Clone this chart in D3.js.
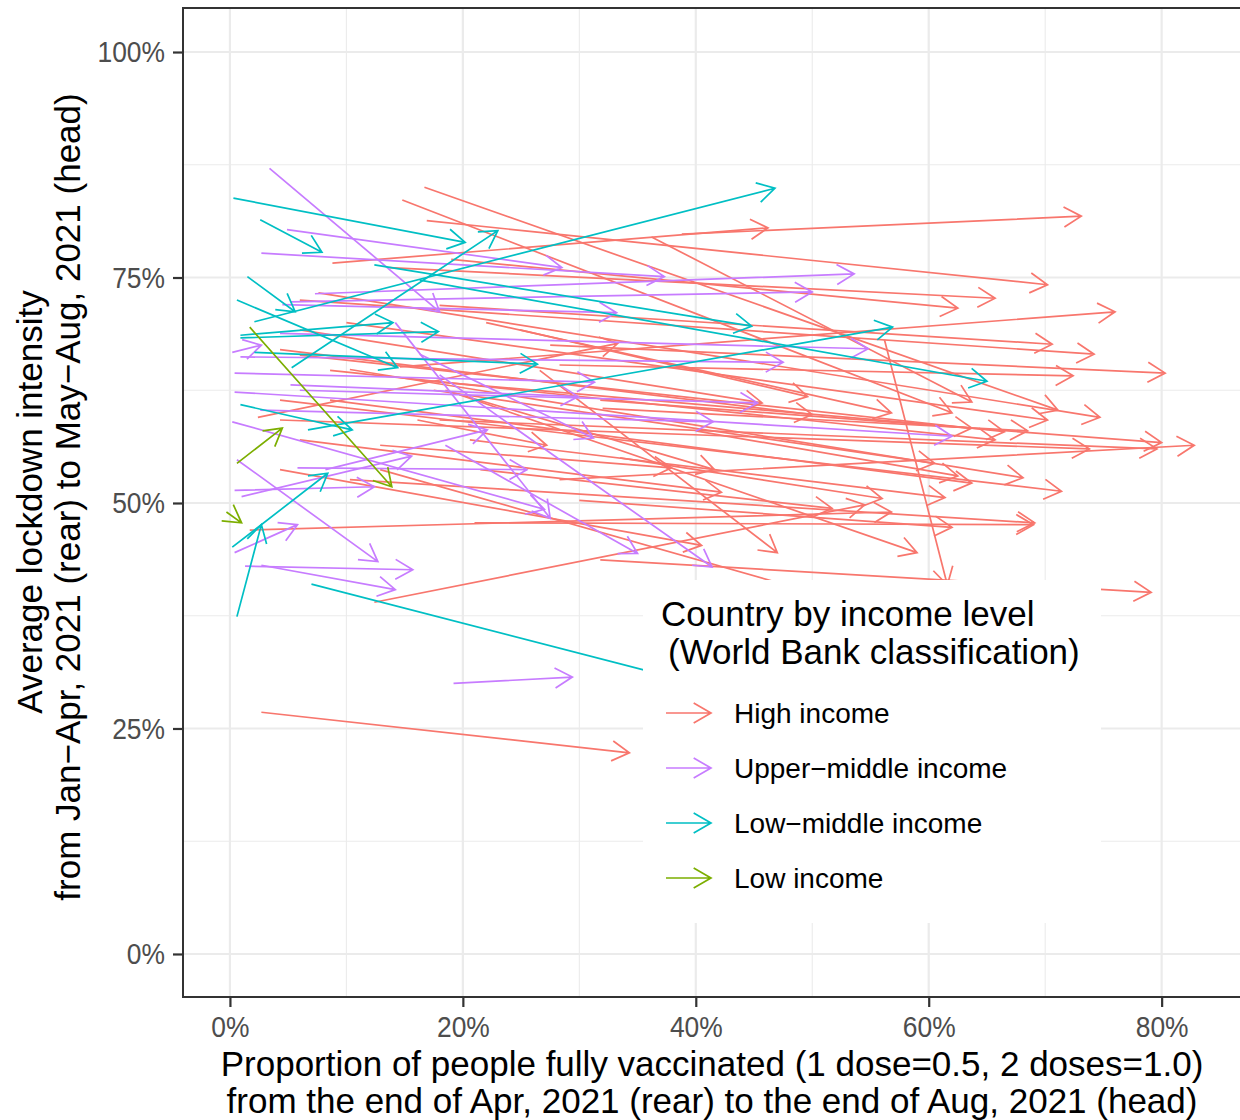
<!DOCTYPE html>
<html><head><meta charset="utf-8">
<script src="https://cdn.jsdelivr.net/npm/d3@7/dist/d3.min.js"></script>
<style>
body{margin:0;background:#fff}
svg{display:block}
.ax{font-family:"Liberation Sans",Arial,Helvetica,sans-serif}
.reg{font-family:"Liberation Sans",Arial,Helvetica,sans-serif}
</style>
</head><body>
<svg id="chart" width="1240" height="1120"></svg>
<script>
// ---- data (percent values) ----
const incomeLevels = ["High income", "Upper\u2212middle income", "Low\u2212middle income", "Low income"];
const levelColors = ["#F8766D", "#C77CFF", "#00BFC4", "#7CAE00"];
const xTickValues = [0, 20, 40, 60, 80];
const yTickValues = [0, 25, 50, 75, 100];
const xTickLabels = ["0%", "20%", "40%", "60%", "80%"];
const yTickLabels = ["0%", "25%", "50%", "75%", "100%"];

// each arrow: [vaccinated rear, lockdown rear, vaccinated head, lockdown head]
const highIncome = [
  [38.8,79.8,73.1,81.8],[8.8,76.6,46.2,80.5],[16.7,85.0,71.1,60.3],[14.8,83.6,62.0,60.0],
  [16.9,81.3,70.2,74.2],[36.2,79.5,63.7,61.2],[13.7,76.1,65.7,72.7],[19.0,77.0,62.5,71.6],
  [2.4,59.5,33.3,67.7],[14.6,65.1,76.0,71.2],[18.0,71.9,70.6,67.6],[6.0,72.5,74.2,66.5],
  [27.5,67.5,80.3,64.4],[28.3,65.3,72.4,64.1],[7.6,73.3,74.7,59.5],[22.0,70.0,56.8,60.0],
  [6.0,66.4,66.5,57.9],[8.6,64.7,65.7,57.0],[16.3,63.6,63.7,58.3],[31.8,61.4,80.0,56.7],
  [28.3,52.6,82.8,56.4],[18.0,59.2,79.6,56.0],[4.3,59.2,73.8,56.0],[17.5,62.5,60.5,54.4],
  [10.3,64.8,68.1,52.8],[4.3,61.4,71.4,51.3],[8.6,61.4,63.7,52.2],[20.6,57.0,61.4,50.6],
  [1.7,47.0,56.8,49.0],[10.3,52.6,69.1,47.8],[30.0,50.3,62.0,47.3],[19.7,62.0,59.0,44.5],
  [6.0,69.2,45.7,61.1],[24.9,69.2,49.6,61.8],[4.3,67.0,50.0,59.8],[18.5,62.5,41.6,53.7],
  [12.9,56.4,37.9,53.9],[6.0,57.0,42.2,51.2],[26.6,64.7,47.0,44.5],[4.3,53.7,40.5,45.3],
  [21.5,53.7,51.7,49.4],[12.4,39.0,54.5,49.8],[16.1,59.2,27.2,56.4],[31.8,43.7,79.1,40.1],
  [56.2,68.1,61.6,40.9],[2.7,26.8,34.3,22.3],[10.0,70.0,70.2,59.2],[12.9,53.7,53.0,39.0],
  [21.0,47.8,69.0,47.6],[32.0,60.5,68.5,58.0],[40.0,58.0,62.5,53.0],[33.5,55.0,56.0,50.5]
];
const upperMiddleIncome = [
  [3.4,87.1,18.0,71.2],[4.9,80.3,28.5,76.1],[2.7,77.7,37.3,75.1],[7.3,73.2,53.6,75.4],
  [5.2,72.3,50.0,73.4],[4.5,72.0,33.2,71.1],[0.2,66.7,2.7,67.5],[4.3,68.8,54.8,67.1],
  [0.9,66.2,47.5,65.6],[0.4,62.3,62.0,57.4],[0.4,64.4,31.3,63.4],[0.2,59.0,27.0,49.3],
  [14.2,70.0,27.5,48.3],[0.6,54.8,12.7,43.5],[1.0,50.7,15.6,55.2],[0.4,51.4,12.4,51.8],
  [5.8,53.9,25.5,53.7],[8.2,53.7,22.1,58.1],[0.4,44.5,5.8,47.6],[18.5,56.4,35.0,44.4],
  [18.0,64.2,41.4,42.9],[6.0,62.5,45.3,61.1],[2.6,60.3,41.5,59.0],[16.3,66.5,31.2,57.2],
  [5.2,63.1,29.9,61.8],[1.3,43.0,15.7,42.6],[2.7,43.1,14.2,40.4],[19.2,30.0,29.4,30.7]
];
const lowMiddleIncome = [
  [0.3,83.8,20.2,78.9],[2.6,81.4,7.9,77.8],[5.3,65.0,23.0,80.2],[2.1,70.1,46.8,84.9],
  [1.5,75.1,5.6,71.2],[0.6,72.5,14.4,65.0],[0.9,68.6,14.0,70.0],[0.9,68.3,17.9,69.0],
  [2.1,66.7,26.4,65.4],[12.4,76.4,44.8,69.6],[16.3,74.7,65.0,63.5],[6.7,58.1,56.9,69.5],
  [0.9,60.9,10.5,58.1],[0.2,45.1,8.4,53.3],[0.6,37.4,2.7,47.6],[7.0,41.0,40.0,30.0]
];
const lowIncome = [
  [1.7,69.5,13.9,51.8],[0.6,54.4,4.5,58.3],[-0.3,49.0,1.0,47.8]
];
const groupArrows = [highIncome, upperMiddleIncome, lowMiddleIncome, lowIncome];

// ---- layout ----
const svg = d3.select("#chart");
const panel = {left:183, top:8, right:1242, bottom:997};
const x = d3.scaleLinear().domain([-4.03, 86.9]).range([panel.left, panel.right]);
const y = d3.scaleLinear().domain([-4.77, 104.88]).range([panel.bottom, panel.top]);

svg.append("defs").append("clipPath").attr("id","clip")
  .append("rect").attr("x",panel.left).attr("y",panel.top)
  .attr("width",panel.right-panel.left).attr("height",panel.bottom-panel.top);

const plot = svg.append("g").attr("clip-path","url(#clip)");
plot.append("rect").attr("x",panel.left).attr("y",panel.top)
  .attr("width",panel.right-panel.left).attr("height",panel.bottom-panel.top).attr("fill","#fff");

// grid
const xMinor = [10,30,50,70,90], yMinor = [12.5,37.5,62.5,87.5];
plot.selectAll(".gxm").data(xMinor).join("line")
  .attr("x1",d=>x(d)).attr("x2",d=>x(d)).attr("y1",panel.top).attr("y2",panel.bottom)
  .attr("stroke","#EBEBEB").attr("stroke-width",1.1);
plot.selectAll(".gym").data(yMinor).join("line")
  .attr("y1",d=>y(d)).attr("y2",d=>y(d)).attr("x1",panel.left).attr("x2",panel.right)
  .attr("stroke","#EBEBEB").attr("stroke-width",1.1);
plot.selectAll(".gx").data(xTickValues.concat([100])).join("line")
  .attr("x1",d=>x(d)).attr("x2",d=>x(d)).attr("y1",panel.top).attr("y2",panel.bottom)
  .attr("stroke","#EBEBEB").attr("stroke-width",2.2);
plot.selectAll(".gy").data(yTickValues).join("line")
  .attr("y1",d=>y(d)).attr("y2",d=>y(d)).attr("x1",panel.left).attr("x2",panel.right)
  .attr("stroke","#EBEBEB").attr("stroke-width",2.2);

// arrows
const headLen = 20, headAng = Math.PI/6;
function arrowPath(x0,y0,x1,y1){
  const a = Math.atan2(y1-y0, x1-x0);
  const h1x = x1 - headLen*Math.cos(a-headAng), h1y = y1 - headLen*Math.sin(a-headAng);
  const h2x = x1 - headLen*Math.cos(a+headAng), h2y = y1 - headLen*Math.sin(a+headAng);
  return `M${x0},${y0}L${x1},${y1}M${h1x},${h1y}L${x1},${y1}L${h2x},${h2y}`;
}
groupArrows.forEach((arr, gi) => {
  plot.append("g").selectAll("path").data(arr).join("path")
    .attr("d", d => arrowPath(x(d[0]), y(d[1]), x(d[2]), y(d[3])))
    .attr("fill","none").attr("stroke", levelColors[gi]).attr("stroke-width",1.7)
    .attr("stroke-linejoin","miter");
});

// border
svg.append("rect").attr("x",panel.left).attr("y",panel.top)
  .attr("width",panel.right-panel.left).attr("height",panel.bottom-panel.top)
  .attr("fill","none").attr("stroke","#333333").attr("stroke-width",2);

// axes
const yAxis = d3.axisLeft(y).tickValues(yTickValues).tickFormat((d,i)=>yTickLabels[i]).tickSize(10).tickPadding(8);
const gy = svg.append("g").attr("transform",`translate(${panel.left},0)`).call(yAxis);
const xAxis = d3.axisBottom(x).tickValues(xTickValues).tickFormat((d,i)=>xTickLabels[i]).tickSize(10).tickPadding(9);
const gx = svg.append("g").attr("transform",`translate(0,${panel.bottom})`).call(xAxis);
[gx, gy].forEach(g => {
  g.select(".domain").remove();
  g.selectAll(".tick line").attr("stroke","#333333").attr("stroke-width",2.2);
  g.selectAll(".tick text").attr("class","ax").attr("fill","#4D4D4D").attr("font-size",30)
    .each(function(){
      const t = d3.select(this);
      const tx = +t.attr("x") || 0;
      t.attr("x",0).attr("transform",`translate(${tx},0) scale(0.88,1)`);
    });
});

// axis titles (slightly condensed)
const xt1 = svg.append("text").attr("class","ax").attr("font-size",35).attr("fill","#000")
  .attr("text-anchor","middle").attr("transform","translate(712,1076) scale(1.0,1)")
  .text("Proportion of people fully vaccinated (1 dose=0.5, 2 doses=1.0)");
const xt2 = svg.append("text").attr("class","ax").attr("font-size",35).attr("fill","#000")
  .attr("text-anchor","middle").attr("transform","translate(712,1113) scale(1.0,1)")
  .text("from the end of Apr, 2021 (rear) to the end of Aug, 2021 (head)");

svg.append("text").attr("class","ax").attr("font-size",35).attr("fill","#000")
  .attr("text-anchor","middle").attr("transform","translate(42,502) rotate(-90)")
  .text("Average lockdown intensity");
svg.append("text").attr("class","ax").attr("font-size",35).attr("fill","#000")
  .attr("text-anchor","middle").attr("transform","translate(80,497) rotate(-90)")
  .text("from Jan\u2212Apr, 2021 (rear) to May\u2212Aug, 2021 (head)");

// legend
const lg = svg.append("g");
lg.append("rect").attr("x",643).attr("y",580).attr("width",458).attr("height",343).attr("fill","#fff");
lg.append("text").attr("class","reg").attr("font-size",35).attr("fill","#000")
  .attr("x",661).attr("y",626).text("Country by income level");
lg.append("text").attr("class","reg").attr("font-size",35).attr("fill","#000")
  .attr("x",668).attr("y",664).text("(World Bank classification)");
const keyY = [713, 768, 823, 878];
incomeLevels.forEach((lab, i) => {
  lg.append("path").attr("d", arrowPath(666, keyY[i], 711, keyY[i]))
    .attr("fill","none").attr("stroke",levelColors[i]).attr("stroke-width",1.7);
  lg.append("text").attr("class","reg").attr("x",734).attr("y",keyY[i]+10)
    .attr("font-size",28).attr("fill","#000").text(lab);
});
</script>
</body></html>
